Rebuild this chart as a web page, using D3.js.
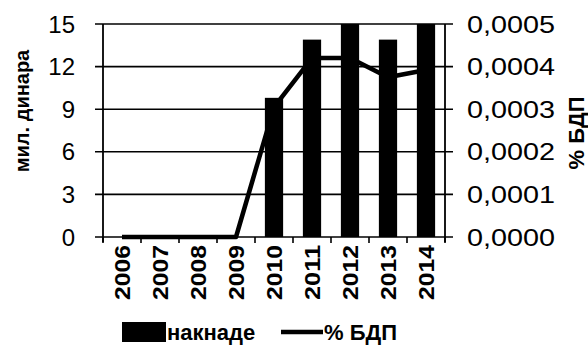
<!DOCTYPE html>
<html><head><meta charset="utf-8">
<script src="https://cdn.jsdelivr.net/npm/d3@7"></script>
<style>
html,body{margin:0;padding:0;background:#fff;}
svg{display:block;}
text{font-family:"Liberation Sans",Arial,sans-serif;fill:#000;}
</style></head>
<body><svg id="c" width="588" height="356"></svg>
<script>
const years = ["2006","2007","2008","2009","2010","2011","2012","2013","2014"];
const fees = [0,0,0,0,9.8,13.9,15,13.9,15];
const gdpShare = [0,0,0,0,0.000305,0.00042,0.00042,0.000375,0.000392];
const leftTicks = [0,3,6,9,12,15];
const rightTicks = [0,0.0001,0.0002,0.0003,0.0004,0.0005];
const leftTitle = "мил. динара";
const rightTitle = "% БДП";
const legendBars = "накнаде";
const legendLine = "% БДП";

const svg = d3.select("#c");
const L = 103, R = 445, T = 24, B = 237;
const x = d3.scaleBand().domain(years).range([L, R]).paddingInner(0.52).paddingOuter(0.26);
const xb = d3.scaleBand().domain(years).range([L, R]);
const y = d3.scaleLinear().domain([0,15]).range([B, T]);
const y2 = d3.scaleLinear().domain([0,0.0005]).range([B, T]);

// gridlines with outward ticks both sides
svg.append("g").selectAll("line").data(leftTicks).join("line")
  .attr("x1", L-8).attr("x2", R+8)
  .attr("y1", d=>y(d)).attr("y2", d=>y(d))
  .attr("stroke","#000").attr("stroke-width",1.6);

// bars
svg.append("g").selectAll("rect").data(years).join("rect")
  .attr("x", d=>x(d)).attr("width", x.bandwidth())
  .attr("y", (d,i)=>y(Math.min(fees[i],15)))
  .attr("height", (d,i)=>B - y(Math.min(fees[i],15)))
  .attr("fill","#000");

// axes lines
svg.append("line").attr("x1",L).attr("x2",L).attr("y1",T).attr("y2",B+5).attr("stroke","#000").attr("stroke-width",1.8);
svg.append("line").attr("x1",R).attr("x2",R).attr("y1",T).attr("y2",B+5).attr("stroke","#000").attr("stroke-width",1.8);
// category ticks
svg.append("g").selectAll("line").data(d3.range(years.length+1)).join("line")
  .attr("x1", i=>L + i*xb.step()).attr("x2", i=>L + i*xb.step())
  .attr("y1", B).attr("y2", B+6).attr("stroke","#000").attr("stroke-width",1.6);

// line
const line = d3.line().x((d,i)=>xb(years[i]) + xb.bandwidth()/2).y(d=>y2(d));
svg.append("path").datum(gdpShare).attr("d", line)
  .attr("fill","none").attr("stroke","#000").attr("stroke-width",4.5).attr("stroke-linejoin","round");

// left tick labels
svg.append("g").selectAll("text").data(leftTicks).join("text")
  .attr("x", 75).attr("y", d=>y(d)).attr("dy","0.36em")
  .attr("text-anchor","end").style("font-size","24px")
  .text(d=>d);

// right tick labels
svg.append("g").selectAll("text").data(rightTicks).join("text")
  .attr("x", 467).attr("y", d=>y2(d)).attr("dy","0.36em")
  .style("font-size","24px").attr("textLength",88).attr("lengthAdjust","spacingAndGlyphs")
  .text(d=>d3.format(".4f")(d).replace(".",","));

// year labels
svg.append("g").selectAll("text").data(years).join("text")
  .attr("transform", d=>`translate(${xb(d)+xb.bandwidth()/2},245) rotate(-90)`)
  .attr("text-anchor","end").attr("dy","0.36em")
  .style("font-size","22px").style("font-weight","bold")
  .attr("textLength",55).attr("lengthAdjust","spacingAndGlyphs")
  .text(d=>d);

// axis titles
svg.append("text").attr("transform","translate(22,111) rotate(-90)")
  .attr("text-anchor","middle").attr("dy","0.36em")
  .style("font-size","20px").style("font-weight","bold").text(leftTitle);
svg.append("text").attr("transform","translate(576,133) rotate(-90)")
  .attr("text-anchor","middle").attr("dy","0.36em")
  .style("font-size","22px").style("font-weight","bold").text(rightTitle);

// legend
const ly = 332;
svg.append("rect").attr("x",122).attr("y",ly-10).attr("width",44).attr("height",20).attr("fill","#000");
svg.append("text").attr("x",167).attr("y",ly).attr("dy","0.36em")
  .style("font-size","22px").style("font-weight","bold").text(legendBars);
svg.append("line").attr("x1",281).attr("x2",323).attr("y1",ly).attr("y2",ly).attr("stroke","#000").attr("stroke-width",4.5);
svg.append("text").attr("x",324).attr("y",ly).attr("dy","0.36em")
  .style("font-size","22px").style("font-weight","bold").text(legendLine);
</script></body></html>
